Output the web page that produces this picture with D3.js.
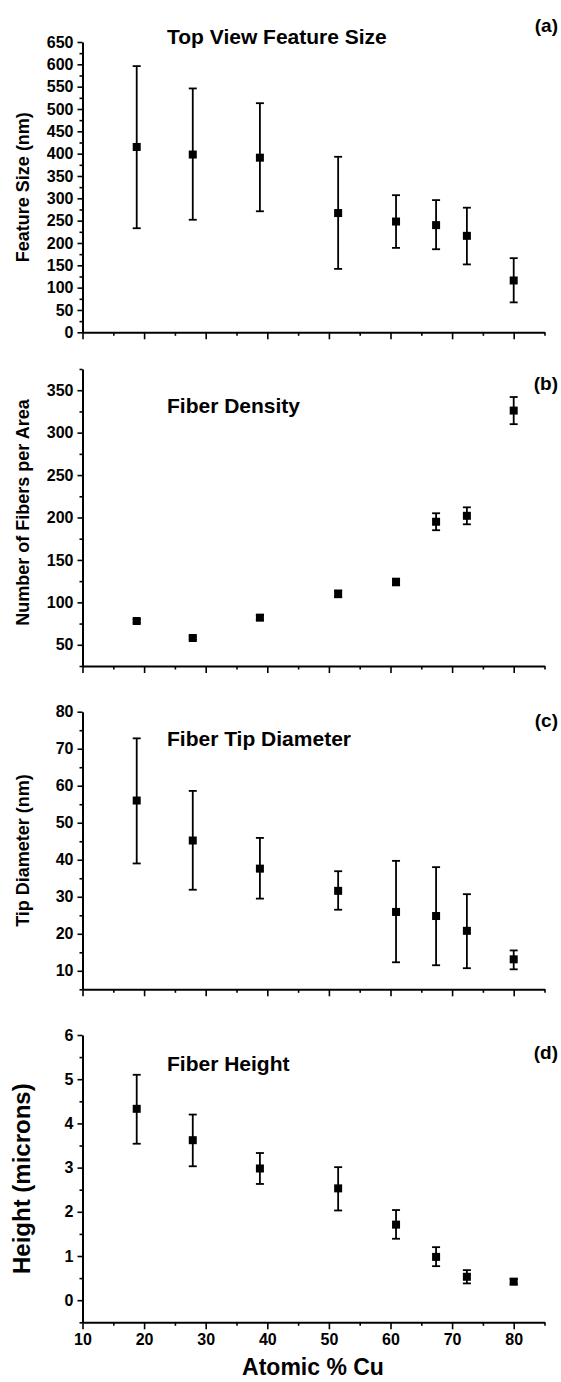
<!DOCTYPE html>
<html>
<head>
<meta charset="utf-8">
<script src="https://cdn.jsdelivr.net/npm/d3@7"></script>
<style>
  body { margin: 0; background: #fff; }
  text { font-family: "Liberation Sans", Arial, sans-serif; font-weight: bold; fill: #000; }
</style>
</head>
<body>
<div id="chart"></div>
<script>
// atomic % Cu of the eight samples
const atomicCu = [18.8, 27.9, 38.8, 51.5, 60.9, 67.4, 72.4, 80.0]
const xTicks = [10, 20, 30, 40, 50, 60, 70, 80]

// (a) top view feature size, nm
const featureSize = [415, 398, 391, 267, 248, 240, 216, 116]
const featureLow = [233, 252, 271, 142, 189, 186, 152, 67]
const featureHigh = [596, 546, 513, 393, 307, 296, 279, 166]
const featureTicks = [0, 50, 100, 150, 200, 250, 300, 350, 400, 450, 500, 550, 600, 650]

// (b) fibers per area
const density = [78, 58, 82, 110, 124, 195, 202, 326]
const densityLow = [76, 56, 79, 106, 120, 185, 192, 310]
const densityHigh = [80, 60, 85, 114, 128, 205, 212, 342]
const densityTicks = [50, 100, 150, 200, 250, 300, 350]

// (c) tip diameter, nm
const tipDiameter = [56, 45.2, 37.6, 31.6, 25.9, 24.8, 20.8, 13.1]
const tipLow = [39, 31.9, 29.5, 26.5, 12.3, 11.5, 10.7, 10.4]
const tipHigh = [72.8, 58.6, 45.9, 36.9, 39.7, 38, 30.7, 15.5]
const tipTicks = [10, 20, 30, 40, 50, 60, 70, 80]

// (d) fiber height, microns
const fiberHeight = [4.33, 3.62, 2.98, 2.53, 1.71, 0.98, 0.53, 0.42]
const heightLow = [3.54, 3.03, 2.63, 2.03, 1.39, 0.77, 0.38, 0.36]
const heightHigh = [5.1, 4.2, 3.33, 3.01, 2.04, 1.2, 0.68, 0.48]
const heightTicks = [0, 1, 2, 3, 4, 5, 6]

const width = 561, height = 1382
const left = 82.5, right = 544.5

const svg = d3.select("#chart").append("svg")
    .attr("width", width)
    .attr("height", height)

const x = d3.scaleLinear().domain([10, 85]).range([left, right])

const panels = [
    { tag: "(a)", title: "Top View Feature Size", ylabel: "Feature Size (nm)", ylabelSize: 18,
      top: 42, bottom: 332.3, domain: [0, 650], ticks: featureTicks, minorStep: 25,
      mean: featureSize, lo: featureLow, hi: featureHigh, titleY: 44, tagY: 32 },
    { tag: "(b)", title: "Fiber Density", ylabel: "Number of Fibers per Area", ylabelSize: 18,
      top: 369, bottom: 666, domain: [25, 375], ticks: densityTicks, minorStep: 25,
      mean: density, lo: densityLow, hi: densityHigh, titleY: 413, tagY: 390 },
    { tag: "(c)", title: "Fiber Tip Diameter", ylabel: "Tip Diameter (nm)", ylabelSize: 18,
      top: 711.7, bottom: 989.3, domain: [5, 80], ticks: tipTicks, minorStep: 5,
      mean: tipDiameter, lo: tipLow, hi: tipHigh, titleY: 746, tagY: 727 },
    { tag: "(d)", title: "Fiber Height", ylabel: "Height (microns)", ylabelSize: 24,
      top: 1035, bottom: 1322.3, domain: [-0.5, 6], ticks: heightTicks, minorStep: 0.5,
      mean: fiberHeight, lo: heightLow, hi: heightHigh, titleY: 1071, tagY: 1059 }
]

panels.forEach((p, i) => {
    const g = svg.append("g")
    const y = d3.scaleLinear().domain(p.domain).range([p.bottom, p.top])

    // minor ticks first so the major ones sit on top
    const minor = d3.range(p.domain[0], p.domain[1] + 1e-9, p.minorStep)
        .filter(v => !p.ticks.some(t => Math.abs(t - v) < 1e-9))
    g.append("g")
        .attr("transform", "translate(" + left + ",0)")
        .call(d3.axisLeft(y).tickValues(minor).tickSize(3).tickFormat(""))
        .call(a => a.select(".domain").remove())

    const yAxis = g.append("g")
        .attr("transform", "translate(" + left + ",0)")
        .call(d3.axisLeft(y).tickValues(p.ticks).tickFormat(d => d).tickSize(5).tickSizeOuter(0).tickPadding(4))
    yAxis.selectAll("text").style("font-size", "16px").style("font-weight", "bold")

    const xMinor = [15, 25, 35, 45, 55, 65, 75, 85]
    g.append("g")
        .attr("transform", "translate(0," + p.bottom + ")")
        .call(d3.axisBottom(x).tickValues(xMinor).tickSize(3.5).tickFormat(""))
        .call(a => a.select(".domain").remove())
    const xAxis = g.append("g")
        .attr("transform", "translate(0," + p.bottom + ")")
        .call(d3.axisBottom(x).tickValues(xTicks).tickSize(7).tickSizeOuter(0).tickPadding(4))
    if (i < 3) xAxis.selectAll("text").remove()
    else xAxis.selectAll("text").style("font-size", "16px").style("font-weight", "bold")

    g.selectAll(".domain").attr("stroke-width", 2)
    g.selectAll(".tick line").attr("stroke-width", 1.6)

    // error bars
    const bars = g.append("g").attr("stroke", "#000").attr("stroke-width", 1.8)
    p.mean.forEach((m, k) => {
        const cx = x(atomicCu[k])
        bars.append("line").attr("x1", cx).attr("x2", cx)
            .attr("y1", y(p.lo[k])).attr("y2", y(p.hi[k]))
        ;[p.lo[k], p.hi[k]].forEach(v => {
            bars.append("line").attr("x1", cx - 4).attr("x2", cx + 4)
                .attr("y1", y(v)).attr("y2", y(v))
        })
    })

    g.append("g").selectAll("rect")
        .data(p.mean)
        .enter()
        .append("rect")
        .attr("x", (d, k) => x(atomicCu[k]) - 4)
        .attr("y", d => y(d) - 4)
        .attr("width", 8)
        .attr("height", 8)
        .attr("fill", "#000")

    g.append("text")
        .attr("x", 167)
        .attr("y", p.titleY)
        .style("font-size", "21px")
        .text(p.title)

    g.append("text")
        .attr("x", 558)
        .attr("y", p.tagY)
        .attr("text-anchor", "end")
        .style("font-size", "19px")
        .text(p.tag)

    const ymid = (p.top + p.bottom) / 2 + (i == 1 ? -5 : 0)
    g.append("text")
        .attr("transform", "translate(" + (i == 3 ? 30 : 29) + "," + ymid + ") rotate(-90)")
        .attr("text-anchor", "middle")
        .style("font-size", p.ylabelSize + "px")
        .text(p.ylabel)
})

svg.append("text")
    .attr("x", 313)
    .attr("y", 1375)
    .attr("text-anchor", "middle")
    .style("font-size", "23px")
    .text("Atomic % Cu")
</script>
</body>
</html>
